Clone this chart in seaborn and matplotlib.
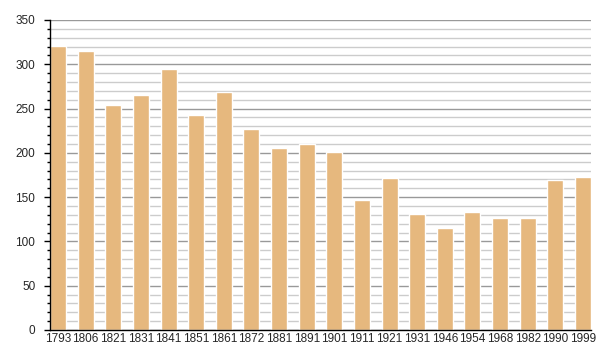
import matplotlib
matplotlib.use("Agg")
import matplotlib.pyplot as plt
import seaborn as sns
import pandas as pd
from matplotlib.ticker import MultipleLocator

years = ["1793", "1806", "1821", "1831", "1841", "1851", "1861", "1872", "1881", "1891",
         "1901", "1911", "1921", "1931", "1946", "1954", "1968", "1982", "1990", "1999"]
population = [321, 315, 254, 265, 295, 243, 269, 227, 206, 210,
              201, 147, 172, 131, 115, 133, 126, 126, 169, 173]

df = pd.DataFrame({"year": years, "pop": population})

sns.set_style("white")
plt.rcParams["font.family"] = ["Liberation Sans", "DejaVu Sans"]

fig = plt.figure(figsize=(6, 3.6), dpi=100)
ax = fig.add_axes([50/600, 30/360, 541/600, 310/360])

sns.barplot(data=df, x="year", y="pop", color="#E6B87E", saturation=1,
            width=0.58, ax=ax, zorder=3)

ax.set_ylim(0, 350)
ax.set_xlim(-0.29, len(years) - 1 + 0.29)
ax.yaxis.set_major_locator(MultipleLocator(50))
ax.yaxis.set_minor_locator(MultipleLocator(10))
ax.grid(which="major", axis="y", color="#999999", linewidth=1, zorder=0)
ax.grid(which="minor", axis="y", color="#cccccc", linewidth=1, zorder=0)
ax.set_axisbelow(True)

for s in ["top", "right"]:
    ax.spines[s].set_visible(False)
for s in ["left", "bottom"]:
    ax.spines[s].set_color("black")
    ax.spines[s].set_linewidth(1)
    ax.spines[s].set_zorder(5)

ax.tick_params(axis="y", which="major", length=4, width=1, color="black",
               labelsize=8.5, pad=6.5, left=True)
ax.tick_params(axis="y", which="minor", length=2, width=1, color="black", left=True)
ax.tick_params(axis="x", length=0, labelsize=8.5, pad=2)
ax.set_xlabel("")
ax.set_ylabel("")

fig.savefig("out.png", dpi=100)
